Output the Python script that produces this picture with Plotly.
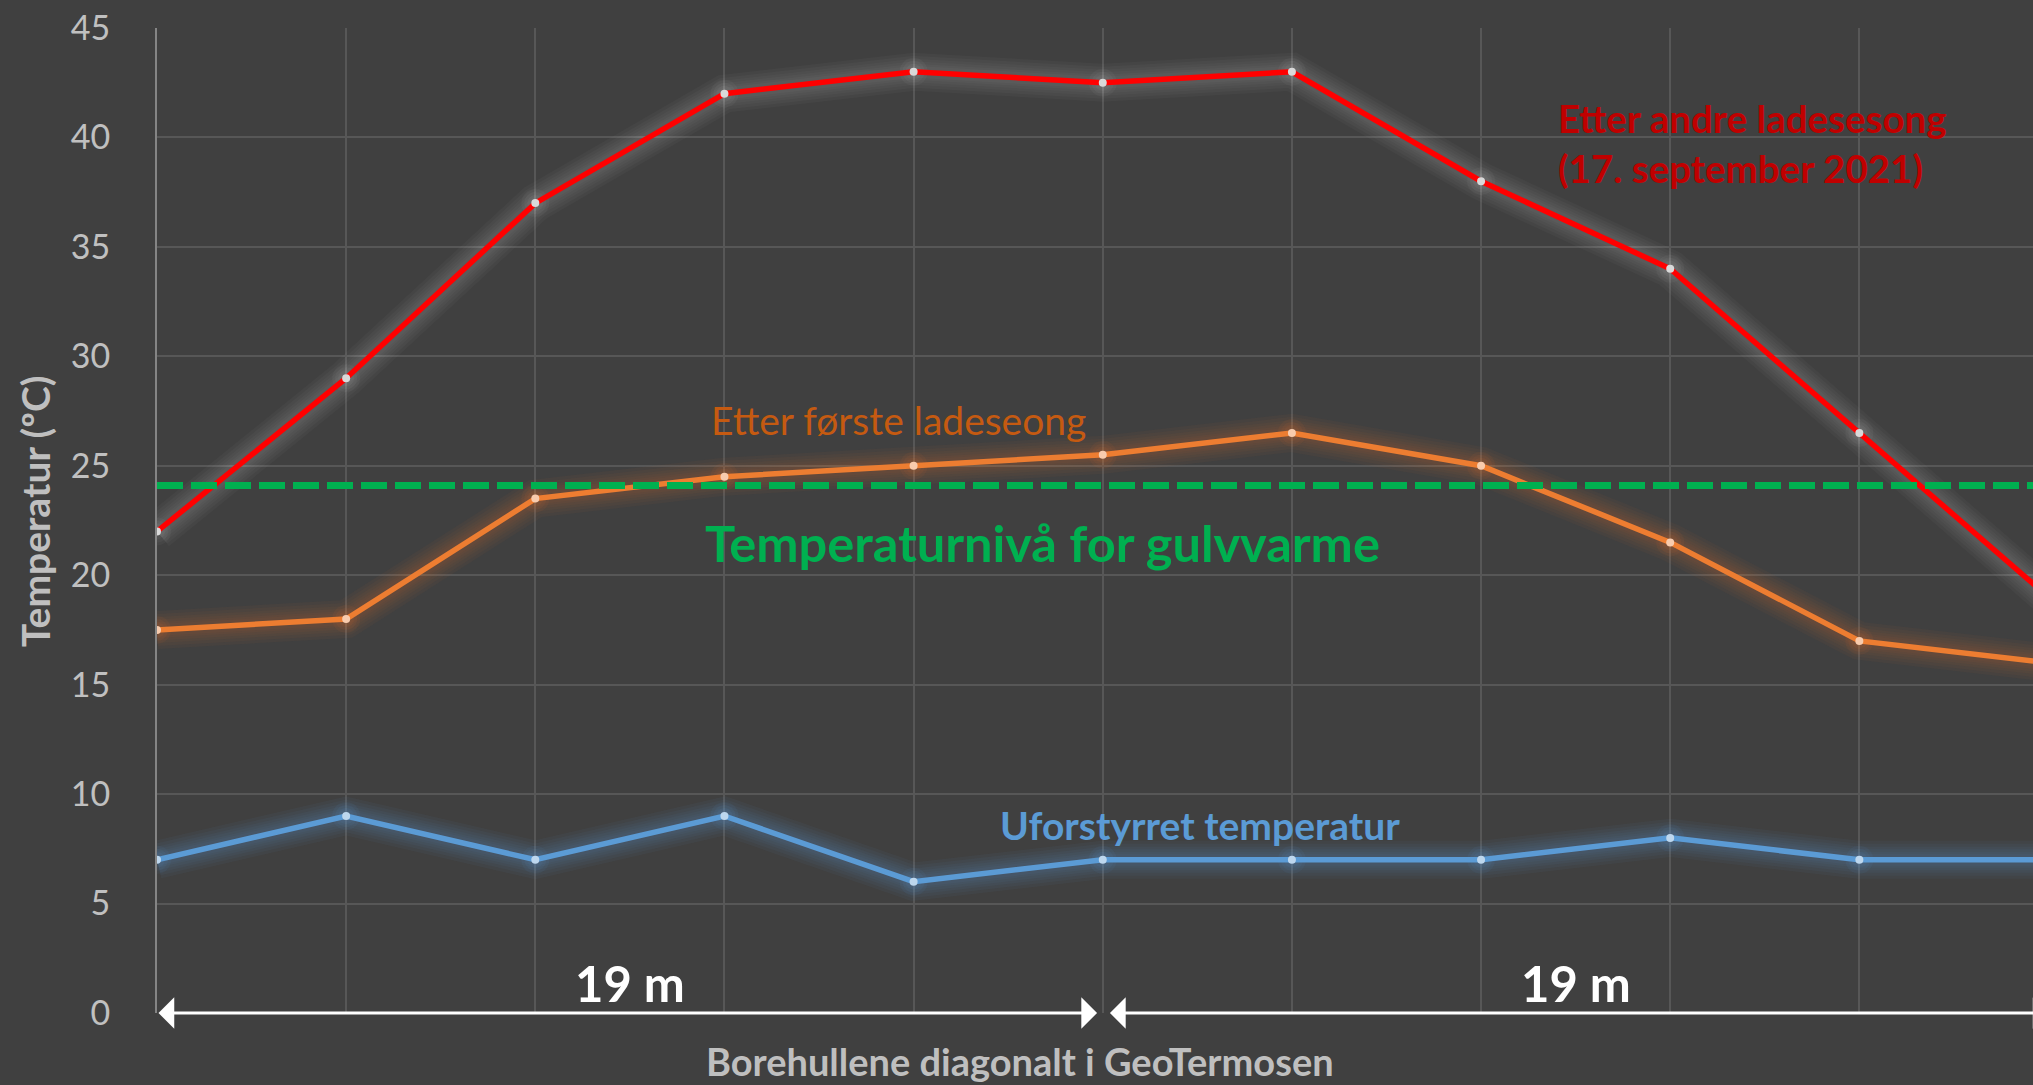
import plotly.graph_objects as go

# Borehole positions along the diagonal (index 0..10)
borehull = list(range(11))

# Measured ground temperatures (°C)
etter_andre = [22, 29, 37, 42, 43, 42.5, 43, 38, 34, 26.5, 19]
etter_forste = [17.5, 18, 23.5, 24.5, 25, 25.5, 26.5, 25, 21.5, 17, 16]
uforstyrret = [7, 9, 7, 9, 6, 7, 7, 7, 8, 7, 7]

# Temperature level needed for floor heating
gulvvarme_niva = 24.1

# Distance spans marked under the chart
spenn_start = [0, 5.03]
spenn_slutt = [4.97, 10]
spenn_tekst = ["19 m", "19 m"]
spenn_midt = [2.5, 7.5]

y_ticks = [0, 5, 10, 15, 20, 25, 30, 35, 40, 45]

BG = "#404040"
GRID = "#575757"
FONT = "Lato"

fig = go.Figure()


def add_series(y, line_color, marker_color, glow_rgb, glow_alpha):
    # soft glow below the line, built from stacked translucent strokes
    for w in (38, 32, 26, 21, 16, 12):
        fig.add_trace(go.Scatter(
            x=borehull, y=y, mode="lines",
            line=dict(color=f"rgba({glow_rgb},{glow_alpha})", width=w),
            hoverinfo="skip", showlegend=False))
    # halo around the points
    for s in (28, 22, 16):
        fig.add_trace(go.Scatter(
            x=borehull, y=y, mode="markers",
            marker=dict(color=f"rgba({glow_rgb},{glow_alpha * 1.3})", size=s,
                        line=dict(width=0)),
            hoverinfo="skip", showlegend=False))
    fig.add_trace(go.Scatter(
        x=borehull, y=y, mode="lines+markers",
        line=dict(color=line_color, width=5.5),
        marker=dict(color=marker_color, size=8, line=dict(width=0)),
        showlegend=False))


add_series(uforstyrret, "#5b9bd5", "#bdd7ee", "91,155,213", 0.05)
add_series(etter_forste, "#ed7d31", "#f8cbad", "237,125,49", 0.045)
add_series(etter_andre, "#ff0000", "#d9d9d9", "255,255,255", 0.028)

# floor heating level
fig.add_trace(go.Scatter(
    x=[borehull[0], borehull[-1]], y=[gulvvarme_niva, gulvvarme_niva],
    mode="lines", line=dict(color="#00b050", width=7, dash="26px,8px"),
    hoverinfo="skip", showlegend=False))

annotations = [
    dict(text="Etter andre ladesesong<br>(17. september 2021)",
         x=7.396, y=39.75, xanchor="left", yanchor="middle", align="left",
         font=dict(family=FONT, size=38.5, color="#c00000", weight="bold")),
    dict(text="Etter første ladeseong",
         x=3.918, y=27.1, xanchor="center", yanchor="middle",
         font=dict(family=FONT, size=39, color="#c55a11")),
    dict(text="Temperaturnivå for gulvvarme",
         x=4.679, y=21.5, xanchor="center", yanchor="middle",
         font=dict(family=FONT, size=50.5, color="#00b050", weight="bold")),
    dict(text="Uforstyrret temperatur",
         x=5.514, y=8.6, xanchor="center", yanchor="middle",
         font=dict(family=FONT, size=39, color="#5b9bd5", weight="bold")),
]
for xm, t in zip(spenn_midt, spenn_tekst):
    annotations.append(dict(
        text=t, x=xm, y=1.35, xanchor="center", yanchor="middle",
        font=dict(family=FONT, size=49, color="#ffffff", weight="bold")))
for a in annotations:
    a.update(xref="x", yref="y", showarrow=False)

# double-headed span arrows along the zero line
for xs, xe in zip(spenn_start, spenn_slutt):
    annotations.append(dict(
        text="", x=xe, y=0, ax=xs, ay=0, xref="x", yref="y", axref="x", ayref="y",
        showarrow=True, arrowside="end+start", arrowhead=1, startarrowhead=1,
        arrowwidth=3, arrowsize=1.75, startarrowsize=1.75, arrowcolor="#ffffff"))

# axis titles
annotations.append(dict(
    text="Temperatur (ºC)", xref="paper", yref="paper", x=-0.065, y=0.5096,
    xanchor="center", yanchor="middle", textangle=-90, showarrow=False,
    font=dict(family=FONT, size=39, color="#bfbfbf", weight="bold")))
annotations.append(dict(
    text="Borehullene diagonalt i GeoTermosen", xref="paper", yref="paper",
    x=0.46, y=-0.049, xanchor="center", yanchor="middle", showarrow=False,
    font=dict(family=FONT, size=38, color="#bfbfbf", weight="bold")))

fig.update_layout(
    width=2033, height=1085,
    margin=dict(l=157, r=0, t=28, b=72),
    paper_bgcolor=BG, plot_bgcolor=BG,
    showlegend=False, hovermode=False,
    annotations=annotations,
    xaxis=dict(range=[0, 9.918], dtick=1, tick0=0, showgrid=True, gridcolor=GRID,
               gridwidth=2, showticklabels=False, zeroline=False, showline=False,
               ticks=""),
    yaxis=dict(range=[0, 45], tickvals=y_ticks, showgrid=True, gridcolor=GRID,
               gridwidth=2, zeroline=False, showline=True, linecolor="#858585",
               linewidth=2, ticks="", ticklabelstandoff=38,
               tickfont=dict(family=FONT, size=34, color="#c0c0c0")),
)

fig.write_html("out.html")
